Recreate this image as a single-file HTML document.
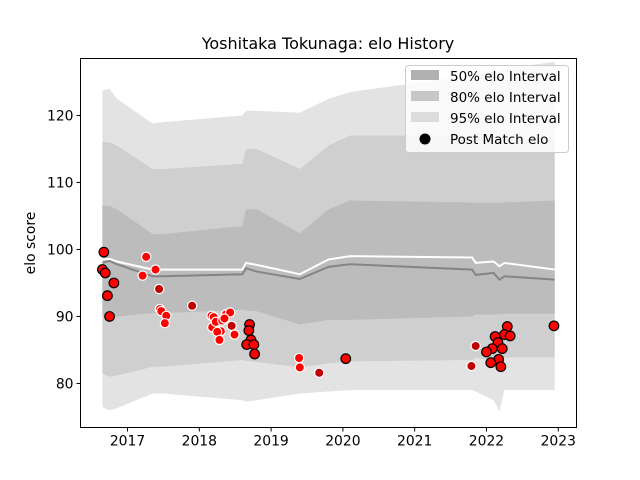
<!DOCTYPE html>
<html><head><meta charset="utf-8"><style>
body{margin:0;background:#fff;}
svg{display:block;font-family:"DejaVu Sans","Liberation Sans",sans-serif;}
</style></head><body>
<svg id="chart" width="640" height="480" viewBox="0 0 640 480">
<rect width="640" height="480" fill="#fff"/>
<text x="328" y="49" font-size="16" text-anchor="middle" fill="#000">Yoshitaka Tokunaga: elo History</text>
<text transform="translate(35,243) rotate(-90)" font-size="13.9" text-anchor="middle">elo score</text>
<g id="plot"></g>
<rect x="80.5" y="58.5" width="496" height="369" fill="none" stroke="#000" stroke-width="1"/>
<g id="axes"></g>
<g>
<rect x="405.5" y="65.5" width="163" height="87" rx="3" fill="#fff" fill-opacity="0.8" stroke="#ccc"/>
<rect x="411" y="70" width="28" height="10" fill="#b0b0b0"/>
<text x="450" y="81" font-size="13.5">50% elo Interval</text>
<rect x="411" y="91" width="28" height="10" fill="#c6c6c6"/>
<text x="450" y="102" font-size="13.5">80% elo Interval</text>
<rect x="411" y="112" width="28" height="10" fill="#dcdcdc"/>
<text x="450" y="123" font-size="13.5">95% elo Interval</text>
<circle cx="425" cy="139" r="5.5" fill="#000"/>
<text x="450" y="144" font-size="13.5">Post Match elo</text>
</g>
</svg>
<script>
const bandDates=[2016.65,2016.75,2016.85,2017.35,2017.5,2018.6,2018.65,2018.8,2019.4,2019.8,2020.1,2021.8,2021.85,2022.1,2022.18,2022.25,2022.95];
const meanElo=[98.0,98.3,97.8,96.0,96.0,96.3,97.2,96.7,95.6,97.4,97.8,97.0,96.2,96.5,95.5,96.0,95.5];
const postElo=[98.5,98.6,98.2,97.0,97.0,97.0,98.0,97.7,96.3,98.5,99.0,98.8,98.0,98.2,97.5,98.0,97.0];
const upper95=[123.7,124,122.5,118.8,119,120,120.7,120.7,120.4,122.5,123.5,126,126,126.5,126.5,127,128];
const lower95=[76.5,76,76.3,78.5,78.5,77.5,77.3,77.5,78.5,78.8,79,79,78.8,77.5,75.8,79,79];
const upper80=[116,116,115.5,112,112,112.8,115,115,112,115.5,117,117,117,116.5,116.5,116.5,116.5];
const lower80=[81.5,81,81.2,82.5,82.5,83.5,83.4,83.2,82.4,83,83.3,83.5,83.8,83.5,83.8,83.9,83.9];
const upper50=[106.5,106.5,106,102.3,102.3,103.5,106,106,102.4,106,107.3,107,107,107,107,107,107.3];
const lower50=[90,90,90,90.5,90.5,91,90.9,90.8,88.8,89.5,89.5,90,90.3,90.3,90.3,90.4,90.4];
const blackDates=[2016.67,2016.65,2016.69,2016.81,2016.72,2016.75,2018.70,2018.69,2018.72,2018.66,2018.76,2018.77,2020.04,2022.29,2022.25,2022.33,2022.12,2022.16,2022.08,2022.22,2022.00,2022.17,2022.06,2022.20,2022.94];
const blackElo=[99.6,97.0,96.5,95.0,93.1,90.0,88.8,87.9,86.5,85.8,85.8,84.4,83.7,88.5,87.3,87.1,87.0,86.1,85.2,85.2,84.7,83.6,83.1,82.5,88.6];
const redDates=[2017.26,2017.39,2017.21,2017.45,2017.47,2017.54,2017.52,2018.17,2018.20,2018.18,2018.23,2018.30,2018.25,2018.28,2018.32,2018.37,2018.43,2018.35,2018.49,2019.39,2019.40];
const redElo=[98.9,97.0,96.1,91.1,90.8,90.1,89.0,90.1,89.9,88.4,89.2,87.8,87.7,86.5,89.4,90.3,90.6,89.7,87.3,83.8,82.4];
const darkDates=[2017.44,2017.90,2018.45,2019.67,2021.85,2021.79];
const darkElo=[94.1,91.6,88.6,81.6,85.6,82.6];
const xTicks=[2017,2018,2019,2020,2021,2022,2023];
const yTicks=[80,90,100,110,120];

const X0=80.5,X1=576.5,Y0=427.5,Y1=58.5;
const xMin=2016.345,xMax=2023.254,yMin=73.43,yMax=128.5;
const sx=v=>X0+(v-xMin)/(xMax-xMin)*(X1-X0);
const sy=v=>Y0-(v-yMin)/(yMax-yMin)*(Y0-Y1);
const NS='http://www.w3.org/2000/svg';
const plot=document.getElementById('plot'),axes=document.getElementById('axes');
function mk(tag,attrs,parent){const e=document.createElementNS(NS,tag);for(const k in attrs)e.setAttribute(k,attrs[k]);parent.appendChild(e);return e;}
function band(up,lo,fill,name){
  let d='M'+bandDates.map((t,i)=>sx(t)+','+sy(up[i])).join('L');
  d+='L'+bandDates.map((t,i)=>[sx(t),sy(lo[i])]).reverse().map(p=>p.join(',')).join('L')+'Z';
  const p=mk('path',{d:d,fill:fill},plot);
  
  
}
band(upper95,lower95,'#e3e3e3','band-95');
band(upper80,lower80,'#cfcfcf','band-80');
band(upper50,lower50,'#bcbcbc','band-50');
function line(vals,color,name){
  const p=mk('polyline',{points:bandDates.map((t,i)=>sx(t)+','+sy(vals[i])).join(' '),fill:'none',stroke:color,'stroke-width':2},plot);
  
  
}
line(meanElo,'#858585','mean-elo-line');
line(postElo,'#ffffff','post-match-elo-line');
function pts(ds,vs,fill,stroke,r,name){
  ds.forEach((t,i)=>{
    const c=mk('circle',{cx:sx(t),cy:sy(vs[i]),r:r,fill:fill,stroke:stroke,'stroke-width':1.2},plot);
    
    
  });
}
pts(redDates,redElo,'#ff0000','#ffffff',4.6,'opponent-point');
pts(darkDates,darkElo,'#c00000','#ffffff',4.6,'opponent-point-dark');
pts(blackDates,blackElo,'#ff0000','#000000',4.8,'post-match-point');
xTicks.forEach(v=>{
  const x=sx(v);
  const l=mk('line',{x1:x,x2:x,y1:Y0,y2:Y0+4,stroke:'#000'},axes);
  
  
  const t=mk('text',{x:x,y:Y0+18,'font-size':13.9,'text-anchor':'middle'},axes);
  t.textContent=v;
  
  
});
yTicks.forEach(v=>{
  const y=sy(v);
  const l=mk('line',{x1:X0-4,x2:X0,y1:y,y2:y,stroke:'#000'},axes);
  
  
  const t=mk('text',{x:X0-7,y:y+5,'font-size':13.9,'text-anchor':'end'},axes);
  t.textContent=v;
  
  
});
</script>
</body></html>
